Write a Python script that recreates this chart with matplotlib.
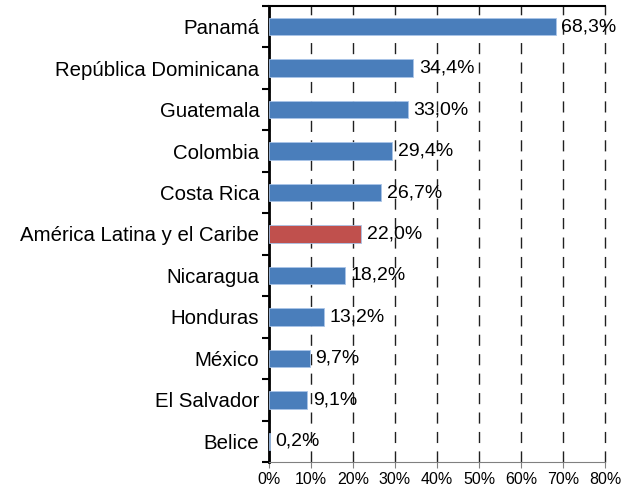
import numpy as np
from matplotlib import pyplot as plt
from matplotlib.ticker import FixedLocator

paises = ['Panamá', 'República Dominicana', 'Guatemala', 'Colombia', 'Costa Rica',
          'América Latina y el Caribe', 'Nicaragua', 'Honduras', 'México',
          'El Salvador', 'Belice']
valores = [68.3, 34.4, 33.0, 29.4, 26.7, 22.0, 18.2, 13.2, 9.7, 9.1, 0.2]
etiquetas = ['68,3%', '34,4%', '33,0%', '29,4%', '26,7%', '22,0%', '18,2%',
             '13,2%', '9,7%', '9,1%', '0,2%']
ticks_x = [0, 10, 20, 30, 40, 50, 60, 70, 80]

plt.rcParams['font.family'] = ['Liberation Sans', 'DejaVu Sans']

fig = plt.figure(figsize=(6.32, 4.88), dpi=100)
ax = fig.add_axes([0.4256, 0.0533, 0.5316, 0.9344])

y = np.arange(len(paises))
colores = ['#c0504d' if p.startswith('América') else '#4a7ebb' for p in paises]
ax.barh(y, valores, height=0.42, color=colores, edgecolor='#a9c4e8', linewidth=0.6, zorder=3)

for yi, v, t in zip(y, valores, etiquetas):
    ax.text(v + 1.3, yi, t, va='center', ha='left', fontsize=14, zorder=4)

ax.set_ylim(len(paises) - 0.5, -0.5)
ax.set_xlim(0, 80)
ax.set_yticks(y)
ax.set_yticklabels(paises, fontsize=14.7)
ax.yaxis.set_minor_locator(FixedLocator(np.arange(-0.5, len(paises), 1)))
ax.tick_params(axis='y', which='major', length=0, pad=7)
ax.tick_params(axis='y', which='minor', length=5, width=1.5, color='black', direction='out')

ax.set_xticks(ticks_x)
ax.set_xticklabels([f'{t}%' for t in ticks_x], fontsize=11.5)
ax.tick_params(axis='x', length=4, color='#808080', direction='out', pad=3)

ax.grid(axis='x', color='#202020', linestyle=(0, (8, 6)), linewidth=1, zorder=0)
for gl in ax.get_xgridlines():
    gl.set_clip_on(False)

ax.spines['left'].set_linewidth(2)
ax.spines['left'].set_color('black')
ax.spines['top'].set_linewidth(1.5)
ax.spines['top'].set_color('black')
ax.spines['bottom'].set_color('#808080')
ax.spines['right'].set_visible(False)

fig.savefig('out.png', dpi=100)
